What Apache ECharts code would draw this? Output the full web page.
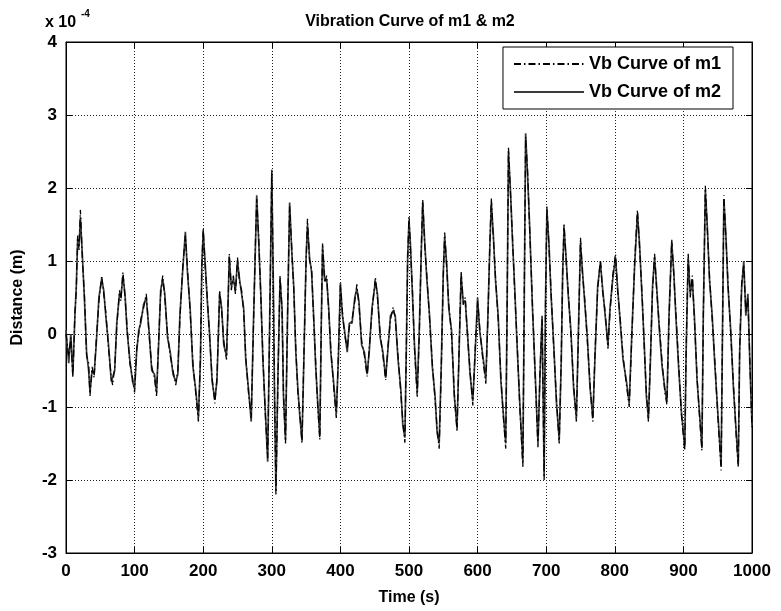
<!DOCTYPE html>
<html><head><meta charset="utf-8">
<script src="https://cdn.jsdelivr.net/npm/echarts@6/dist/echarts.min.js"></script>
<style>html,body{margin:0;padding:0;background:#fff}#c{width:781px;height:611px}</style>
</head><body><div id="c"></div>
<script>
// Time axis samples (s)
const timeS = [
0,4,7,10,13,15,17,19,21,24,
27,30,33,35,38,41,44,48,52,55,
58,62,66,68,71,74,78,80,83,86,
89,93,97,100,103,106,109,113,117,121,
125,129,132,135,138,141,144,148,152,156,
160,163,166,170,174,177,181,185,189,193,
196,198,200,203,206,209,213,217,220,224,
227,230,234,236,238,241,244,247,250,253,
256,259,262,266,270,273,276,278,281,284,
287,290,294,297,300,302,304,306,309,312,
315,317,320,323,326,329,332,335,338,341,
344,347,350,352,355,358,361,364,367,370,
372,374,377,380,383,386,390,394,397,400,
403,406,410,413,417,421,424,427,431,435,
439,442,446,451,454,458,462,466,469,473,
477,480,484,488,491,494,496,498,500,502,
505,508,512,515,518,520,523,526,530,534,
538,541,544,547,550,552,555,558,562,566,
570,573,576,579,582,585,589,593,596,600,
603,607,612,615,618,620,623,626,630,634,
638,641,643,645,648,651,654,658,662,666,
668,670,673,676,680,684,688,691,694,697,
699,701,704,707,711,715,719,722,724,726,
729,732,736,740,744,747,750,753,756,760,
764,768,771,775,779,782,786,790,793,797,
801,804,808,812,817,821,825,829,833,836,
840,843,846,849,852,855,858,861,865,869,
873,876,879,883,886,889,893,897,902,904,
907,910,913,916,920,924,927,929,932,935,
938,942,946,950,955,957,959,962,965,969,
973,977,980,982,985,988,991,994,997,1000
];
// Distance of m1 (x 1e-4 m)
const m1Vals = [
0.0,-0.3,-0.05,-0.6,0.3,0.6,1.35,1.15,1.7,1.0,
0.5,-0.3,-0.4,-0.85,-0.45,-0.6,-0.1,0.45,0.8,0.55,
0.3,-0.2,-0.6,-0.7,-0.45,0.1,0.6,0.45,0.85,0.5,
0.1,-0.4,-0.6,-0.8,-0.2,0.0,0.2,0.35,0.55,0.0,
-0.45,-0.6,-0.85,-0.1,0.55,0.8,0.5,0.0,-0.3,-0.5,
-0.7,-0.5,0.2,0.9,1.35,0.9,0.3,-0.4,-0.8,-1.2,
-0.3,0.9,1.45,0.9,0.5,0.0,-0.6,-0.95,-0.6,0.6,
0.3,-0.1,-0.35,0.3,1.1,0.6,0.8,0.55,1.05,0.7,
0.6,0.3,-0.3,-0.8,-1.15,0.0,1.2,1.85,1.3,0.5,
-0.3,-1.0,-1.7,0.2,2.25,0.8,-0.8,-2.2,-0.6,0.8,
0.3,-0.8,-1.5,0.3,1.75,1.2,0.6,-0.2,-0.8,-1.1,
-1.5,-0.2,1.0,1.58,1.0,0.9,0.2,-0.4,-1.0,-1.45,
0.0,1.24,0.7,0.8,0.3,-0.2,-0.7,-1.15,-0.3,0.67,
0.3,0.0,-0.2,0.1,0.2,0.45,0.68,0.4,-0.1,-0.3,
-0.58,-0.2,0.3,0.78,0.5,0.0,-0.3,-0.63,-0.2,0.2,
0.37,0.2,-0.3,-0.8,-1.2,-1.49,-0.3,1.0,1.62,1.2,
0.6,-0.2,-0.86,0.0,1.2,1.84,1.2,0.8,0.2,-0.4,
-0.9,-1.3,-1.57,-0.5,0.8,1.39,0.9,0.4,0.0,-0.8,
-1.34,-0.2,0.86,0.4,0.5,0.0,-0.5,-0.98,-0.3,0.45,
0.1,-0.3,-0.68,0.2,1.3,1.86,1.3,0.8,0.2,-0.6,
-1.2,-1.57,0.3,2.55,1.9,1.3,0.6,-0.2,-1.1,-1.82,
0.5,2.7,2.2,1.4,0.4,-0.6,-1.55,-0.5,0.2,-2.0,
0.4,1.75,1.2,0.6,-0.2,-0.9,-1.5,-0.3,0.8,1.52,
1.0,0.6,0.0,-0.7,-1.2,0.0,1.32,0.8,0.5,-0.1,
-0.7,-1.2,-0.3,0.6,1.02,0.6,0.3,-0.2,0.3,0.8,
1.1,0.6,0.2,-0.3,-0.7,-1.0,0.0,1.0,1.7,1.2,
0.5,-0.2,-0.8,-1.2,-0.3,0.6,1.1,0.6,0.1,-0.4,
-0.8,-0.97,0.2,1.3,0.8,0.3,-0.4,-1.1,-1.6,-0.2,
1.1,0.5,0.8,0.2,-0.6,-1.2,-1.6,0.2,2.03,1.4,
0.8,0.2,-0.4,-1.1,-1.87,0.0,1.9,1.3,0.7,0.0,
-0.7,-1.4,-1.83,-0.2,0.7,0.95,0.3,0.5,-0.4,-1.3
];
// Distance of m2 (x 1e-4 m)
const m2Vals = [
0.05,-0.4,0.0,-0.55,0.25,0.65,1.3,1.2,1.6,1.05,
0.45,-0.25,-0.5,-0.8,-0.5,-0.55,-0.15,0.5,0.75,0.6,
0.25,-0.15,-0.65,-0.65,-0.5,0.15,0.55,0.5,0.8,0.55,
0.05,-0.35,-0.65,-0.75,-0.25,0.05,0.15,0.4,0.5,0.05,
-0.5,-0.55,-0.8,-0.15,0.6,0.75,0.55,-0.05,-0.25,-0.55,
-0.65,-0.55,0.25,0.85,1.4,0.85,0.35,-0.45,-0.75,-1.15,
-0.35,0.95,1.4,0.95,0.45,0.05,-0.65,-0.9,-0.65,0.55,
0.35,-0.15,-0.3,0.35,1.05,0.65,0.75,0.6,1.0,0.75,
0.55,0.35,-0.35,-0.75,-1.2,0.05,1.15,1.9,1.25,0.55,
-0.35,-0.95,-1.75,0.25,2.2,0.85,-0.85,-2.15,-0.55,0.75,
0.35,-0.85,-1.45,0.25,1.8,1.15,0.65,-0.25,-0.75,-1.15,
-1.45,-0.25,1.05,1.5,1.05,0.85,0.25,-0.45,-0.95,-1.4,
0.05,1.2,0.75,0.75,0.35,-0.25,-0.65,-1.1,-0.35,0.7,
0.25,0.05,-0.25,0.15,0.15,0.5,0.62,0.45,-0.15,-0.25,
-0.55,-0.25,0.35,0.72,0.55,-0.05,-0.25,-0.6,-0.25,0.25,
0.32,0.25,-0.35,-0.75,-1.25,-1.42,-0.25,1.05,1.55,1.25,
0.55,-0.15,-0.8,0.05,1.15,1.8,1.25,0.75,0.25,-0.45,
-0.85,-1.35,-1.5,-0.45,0.85,1.33,0.95,0.35,0.05,-0.85,
-1.28,-0.25,0.8,0.45,0.45,0.05,-0.55,-0.92,-0.35,0.5,
0.05,-0.25,-0.62,0.25,1.25,1.8,1.35,0.75,0.25,-0.65,
-1.15,-1.5,0.35,2.5,1.95,1.25,0.65,-0.25,-1.05,-1.75,
0.45,2.75,2.15,1.45,0.35,-0.55,-1.5,-0.55,0.25,-1.95,
0.45,1.7,1.25,0.55,-0.15,-0.95,-1.45,-0.35,0.85,1.45,
1.05,0.55,0.05,-0.75,-1.15,0.05,1.25,0.85,0.45,-0.05,
-0.75,-1.15,-0.35,0.65,0.98,0.65,0.25,-0.15,0.35,0.75,
1.05,0.65,0.15,-0.35,-0.65,-0.95,0.05,0.95,1.65,1.25,
0.45,-0.15,-0.85,-1.15,-0.35,0.65,1.05,0.65,0.05,-0.45,
-0.75,-0.92,0.25,1.25,0.85,0.25,-0.45,-1.05,-1.55,-0.25,
1.05,0.55,0.75,0.25,-0.65,-1.15,-1.55,0.25,1.98,1.45,
0.75,0.25,-0.45,-1.05,-1.8,0.05,1.85,1.35,0.65,0.05,
-0.75,-1.35,-1.78,-0.25,0.65,1.0,0.25,0.55,-0.45,-1.25
];
const seriesNames = ['Vb Curve of m1', 'Vb Curve of m2'];
const xTickRange = [0, 1000, 100];   // min, max, step
const yTickRange = [-3, 4, 1];
const titleText = 'Vibration Curve of m1 & m2';

const FONT = 'Liberation Sans, Arial, Helvetica, sans-serif';
const txt = (size) => ({ color: '#000', fontSize: size, fontWeight: 'bold', fontFamily: FONT });

const chart = echarts.init(document.getElementById('c'), null, { renderer: 'canvas' });
const pairs = (vals) => timeS.map((t, i) => [t, vals[i]]);

const baseX = { type: 'value', min: xTickRange[0], max: xTickRange[1], interval: xTickRange[2] };
const baseY = { type: 'value', min: yTickRange[0], max: yTickRange[1], interval: yTickRange[2] };
const tickStyle = { show: true, inside: true, length: 6, lineStyle: { color: '#000', width: 1 } };
const axisLn = { show: true, onZero: false, lineStyle: { color: '#000', width: 1 } };
const plain = (v) => String(v);

chart.setOption({
  backgroundColor: '#fff',
  animation: false,
  title: {
    text: titleText, left: 405, top: 9, textAlign: 'center',
    textStyle: txt(16)
  },
  grid: { left: 66, right: 29, top: 42, bottom: 57, show: true, borderColor: '#000', borderWidth: 1, backgroundColor: 'transparent' },
  legend: {
    data: seriesNames, orient: 'vertical', right: 48, top: 47,
    backgroundColor: '#fff', borderColor: '#000', borderWidth: 1,
    padding: [8, 12, 8, 10], itemWidth: 70, itemHeight: 12, itemGap: 10,
    itemStyle: { opacity: 0 },
    textStyle: txt(18)
  },
  xAxis: [
    Object.assign({}, baseX, {
      position: 'bottom',
      axisLine: axisLn,
      axisTick: tickStyle,
      axisLabel: Object.assign(txt(17), { margin: 10, formatter: plain }),
      splitLine: { show: true, lineStyle: { type: [1, 2], color: '#222', width: 1 } },
      name: 'Time (s)', nameLocation: 'middle', nameGap: 37, nameTextStyle: txt(16)
    }),
    Object.assign({}, baseX, {
      position: 'top',
      axisLine: axisLn,
      axisTick: tickStyle, axisLabel: { show: false }, splitLine: { show: false }
    })
  ],
  yAxis: [
    Object.assign({}, baseY, {
      position: 'left',
      axisLine: axisLn,
      axisTick: tickStyle,
      axisLabel: Object.assign(txt(17), { margin: 9, formatter: plain }),
      splitLine: { show: true, lineStyle: { type: [1, 2], color: '#222', width: 1 } },
      name: 'Distance (m)', nameLocation: 'middle', nameGap: 40, nameRotate: 90, nameTextStyle: txt(16)
    }),
    Object.assign({}, baseY, {
      position: 'right',
      axisLine: axisLn,
      axisTick: tickStyle, axisLabel: { show: false }, splitLine: { show: false }
    })
  ],
  graphic: [
    { type: 'text', left: 45, top: 15, style: { text: 'x 10', fill: '#000', font: 'bold 16px ' + FONT } },
    { type: 'text', left: 81, top: 9, style: { text: '-4', fill: '#000', font: 'bold 10px ' + FONT } }
  ],
  series: [
    {
      name: seriesNames[1], type: 'line', xAxisIndex: 0, yAxisIndex: 0,
      data: pairs(m2Vals), symbol: 'none', smooth: false,
      lineStyle: { color: '#3a3a3a', width: 1.7, type: 'solid' },
      itemStyle: { color: '#3a3a3a' }, z: 2
    },
    {
      name: seriesNames[0], type: 'line', xAxisIndex: 0, yAxisIndex: 0,
      data: pairs(m1Vals), symbol: 'none', smooth: false,
      lineStyle: { color: '#000', width: 1.3, type: [7, 3, 1.5, 3] },
      itemStyle: { color: '#000' }, z: 3
    }
  ]
});
</script>
</body></html>
